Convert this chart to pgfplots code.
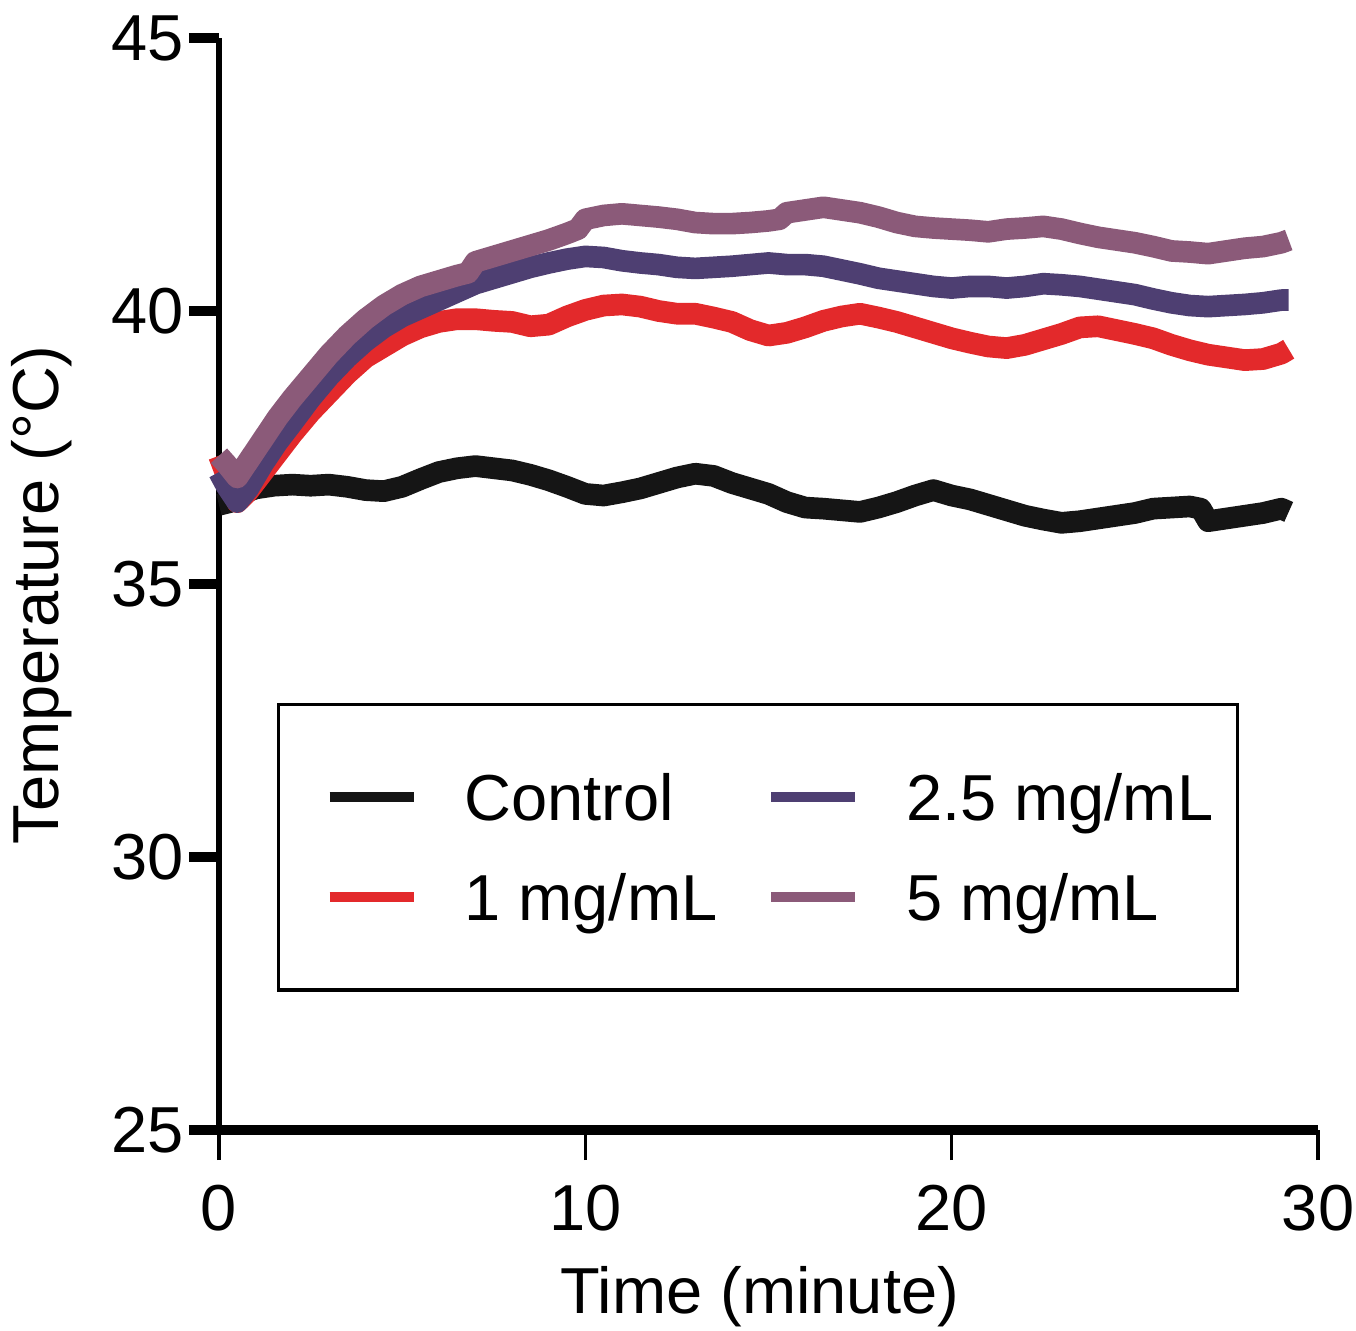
\documentclass[border=0pt]{standalone}
\usepackage{fontspec}
\setmainfont{Liberation Sans}
\usepackage{pgfplots}
\pgfplotsset{compat=1.18}
\definecolor{cblack}{HTML}{151515}
\definecolor{cred}{HTML}{E3292B}
\definecolor{cpurple}{HTML}{4E3F72}
\definecolor{cmauve}{HTML}{8B5A79}
\begin{document}
\begin{tikzpicture}
\useasboundingbox (-65.7pt,-60pt) rectangle (341.1pt,339pt);
\begin{axis}[
  scale only axis, width=329.7pt, height=327.6pt,
  xmin=0, xmax=30, ymin=25, ymax=45,
  axis x line*=bottom, axis y line*=left,
  x axis line style={line width=3pt, -},
  y axis line style={line width=1.8pt, -},
  xtick={0,10,20,30}, ytick={25,30,35,40,45},
  tick align=outside, major tick length=9pt,
  xtick style={line width=1pt, black},
  ytick style={line width=3pt, black},
  /pgf/number format/assume math mode=true,
  tick label style={font=\fontsize{19.5}{23}\selectfont},
  yticklabel style={xshift=2pt},
  xticklabel style={yshift=-4pt},
  label style={font=\fontsize{19.5}{23}\selectfont},
  xlabel={Time (minute)}, ylabel={Temperature (°C)},
  xlabel style={at={(axis description cs:0.492,-0.153)}, anchor=center},
  ylabel style={at={(axis description cs:-0.161,0.49)}, anchor=center},
  clip=false,
  transpose legend, legend columns=2, legend cell align=left,
  legend image code/.code={\path (-4.8pt,0pt); \draw[#1, line width=3pt] (0pt,0pt) -- (25.2pt,0pt);},
  legend style={at={(axis description cs:0.0528,0.391)}, anchor=north west,
    draw=black, line width=1pt, inner xsep=7.2pt, inner ysep=18.8pt,
    font=\fontsize{19.5}{23}\selectfont,
    nodes={inner sep=0pt, text height=16pt, text depth=2pt},
    row sep=12pt,
    /tikz/every odd column/.append style={column sep=13.8pt},
    /tikz/every even column/.append style={column sep=8.1pt}},
  every axis plot/.append style={line width=6.5pt, line join=round},
]
\addplot[cblack] coordinates {
(0,36.45) (0.3,36.5) (0.6,36.65) (1,36.75) (1.5,36.8) (2,36.82) (2.5,36.8) (3,36.82) (3.5,36.78) (4,36.72) (4.5,36.7) (5,36.78) (5.5,36.92) (6,37.05) (6.5,37.12) (7,37.16) (7.5,37.12) (8,37.08) (8.5,37.0) (9,36.9) (9.5,36.78) (10,36.65) (10.5,36.62) (11,36.68) (11.5,36.75) (12,36.85) (12.5,36.95) (13,37.02) (13.5,36.98) (14,36.85) (14.5,36.75) (15,36.65) (15.5,36.5) (16,36.4) (16.5,36.38) (17,36.35) (17.5,36.32) (18,36.4) (18.5,36.5) (19,36.62) (19.5,36.72) (20,36.62) (20.5,36.55) (21,36.45) (21.5,36.35) (22,36.25) (22.5,36.18) (23,36.12) (23.5,36.15) (24,36.2) (24.5,36.25) (25,36.3) (25.5,36.38) (26,36.4) (26.5,36.42) (26.8,36.38) (27,36.15) (27.5,36.2) (28,36.25) (28.5,36.3) (29,36.38) (29.2,36.32)
};
\addlegendentry{Control}
\addplot[cred] coordinates {
(0,37.35) (0.2,37.0) (0.5,36.5) (0.8,36.7) (1.2,37.05) (1.6,37.4) (2,37.75) (2.5,38.15) (3,38.5) (3.5,38.85) (4,39.15) (4.5,39.35) (5,39.55) (5.5,39.7) (6,39.8) (6.5,39.85) (7,39.85) (7.5,39.82) (8,39.8) (8.5,39.72) (9,39.75) (9.5,39.9) (10,40.02) (10.5,40.1) (11,40.12) (11.5,40.08) (12,40.0) (12.5,39.95) (13,39.95) (13.5,39.88) (14,39.8) (14.5,39.65) (15,39.55) (15.5,39.6) (16,39.7) (16.5,39.82) (17,39.9) (17.5,39.95) (18,39.88) (18.5,39.8) (19,39.7) (19.5,39.6) (20,39.5) (20.5,39.42) (21,39.35) (21.5,39.32) (22,39.38) (22.5,39.48) (23,39.58) (23.5,39.7) (24,39.72) (24.5,39.65) (25,39.58) (25.5,39.5) (26,39.38) (26.5,39.28) (27,39.2) (27.5,39.15) (28,39.1) (28.5,39.12) (29,39.22) (29.2,39.3)
};
\addlegendentry{1 mg/mL}
\addplot[cpurple] coordinates {
(0,37.05) (0.2,36.8) (0.5,36.5) (0.8,36.75) (1.2,37.2) (1.6,37.6) (2,37.95) (2.5,38.4) (3,38.8) (3.5,39.15) (4,39.45) (4.5,39.7) (5,39.9) (5.5,40.05) (6,40.2) (6.5,40.35) (7,40.5) (7.5,40.6) (8,40.7) (8.5,40.8) (9,40.88) (9.5,40.95) (10,41.0) (10.5,40.98) (11,40.92) (11.5,40.88) (12,40.85) (12.5,40.8) (13,40.78) (13.5,40.8) (14,40.82) (14.5,40.85) (15,40.88) (15.5,40.85) (16,40.85) (16.5,40.82) (17,40.75) (17.5,40.68) (18,40.6) (18.5,40.55) (19,40.5) (19.5,40.45) (20,40.42) (20.5,40.45) (21,40.45) (21.5,40.42) (22,40.45) (22.5,40.5) (23,40.48) (23.5,40.45) (24,40.4) (24.5,40.35) (25,40.3) (25.5,40.22) (26,40.15) (26.5,40.1) (27,40.08) (27.5,40.1) (28,40.12) (28.5,40.15) (29,40.2) (29.2,40.2)
};
\addlegendentry{2.5 mg/mL}
\addplot[cmauve] coordinates {
(0,37.35) (0.2,37.2) (0.5,36.95) (0.8,37.25) (1.2,37.65) (1.6,38.05) (2,38.4) (2.5,38.8) (3,39.2) (3.5,39.55) (4,39.85) (4.5,40.1) (5,40.3) (5.5,40.45) (6,40.55) (6.5,40.65) (6.8,40.7) (7,40.9) (7.5,41.0) (8,41.1) (8.5,41.2) (9,41.3) (9.5,41.42) (9.8,41.5) (10,41.68) (10.5,41.75) (11,41.78) (11.5,41.75) (12,41.72) (12.5,41.68) (13,41.62) (13.5,41.6) (14,41.6) (14.5,41.62) (15,41.65) (15.3,41.68) (15.5,41.8) (16,41.85) (16.5,41.9) (17,41.85) (17.5,41.8) (18,41.72) (18.5,41.62) (19,41.55) (19.5,41.52) (20,41.5) (20.5,41.48) (21,41.45) (21.5,41.5) (22,41.52) (22.5,41.55) (23,41.5) (23.5,41.42) (24,41.35) (24.5,41.3) (25,41.25) (25.5,41.18) (26,41.1) (26.5,41.08) (27,41.05) (27.5,41.1) (28,41.15) (28.5,41.18) (29,41.25) (29.2,41.3)
};
\addlegendentry{5 mg/mL}
\end{axis}
\end{tikzpicture}
\end{document}
